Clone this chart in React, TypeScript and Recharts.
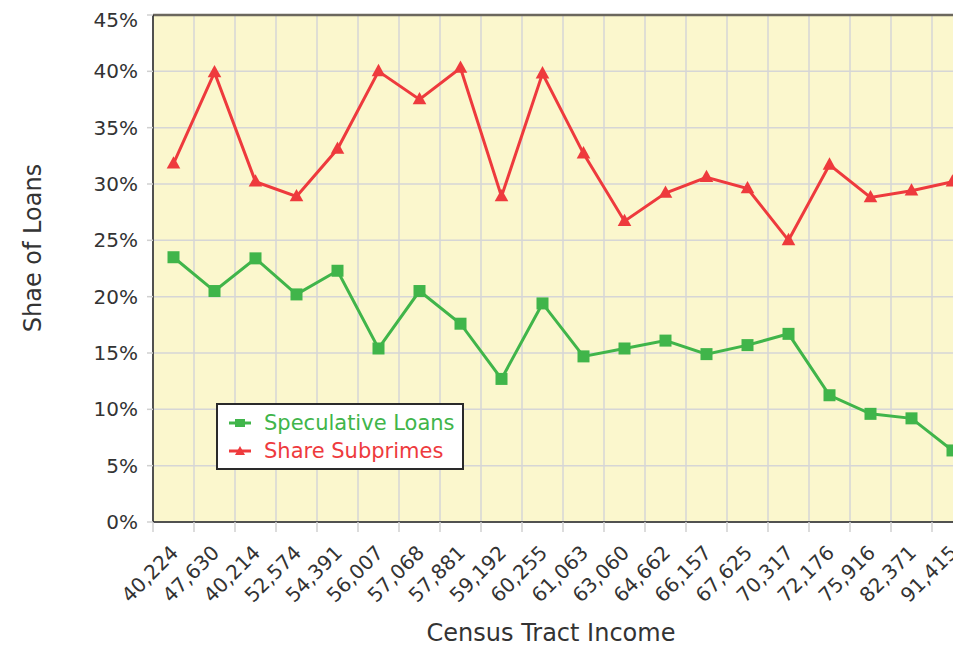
import React from 'react';
import { LineChart, Line, XAxis, YAxis, CartesianGrid, Legend, ReferenceLine, Label } from 'recharts';

const categories = [
  '40,224', '47,630', '40,214', '52,574', '54,391', '56,007', '57,068', '57,881', '59,192', '60,255',
  '61,063', '63,060', '64,662', '66,157', '67,625', '70,317', '72,176', '75,916', '82,371', '91,415',
];
const speculativeLoans = [23.5, 20.5, 23.4, 20.2, 22.3, 15.4, 20.5, 17.6, 12.7, 19.4, 14.7, 15.4, 16.1, 14.9, 15.7, 16.7, 11.25, 9.6, 9.2, 6.35];
const shareSubprimes = [31.8, 39.9, 30.2, 28.9, 33.1, 40.0, 37.5, 40.3, 28.9, 39.8, 32.7, 26.7, 29.2, 30.6, 29.6, 25.0, 31.7, 28.8, 29.4, 30.2];
const yTicks = [0, 5, 10, 15, 20, 25, 30, 35, 40, 45];

const GREEN = '#40b54a';
const RED = '#ee3a3d';
const FONT = '"DejaVu Sans", Verdana, sans-serif';

const CHART_W = 980;
const CHART_H = 642;
const MARGIN = { top: 7, right: 15, bottom: 0, left: 0 };
const Y_AXIS_W = 145;
const BAND = (CHART_W - MARGIN.left - MARGIN.right - Y_AXIS_W) / categories.length;

const data = categories.map((c, i) => ({
  idx: i + 0.5,
  income: c,
  spec: speculativeLoans[i],
  sub: shareSubprimes[i],
}));
const xTicks = categories.map((_, i) => i).concat(categories.length);

function XTick(props: any) {
  const { x, y, payload } = props;
  const label = categories[payload.value];
  if (!label) return null;
  return (
    <text
      transform={`translate(${x + BAND / 2 + 6},${y + 20}) rotate(-45)`}
      textAnchor="end"
      fontSize={20}
      fill="#333"
      fontFamily={FONT}
    >
      {label}
    </text>
  );
}

const squareDot = (p: any) => (
  <rect key={`s-${p.index}`} x={p.cx - 6} y={p.cy - 6} width={12} height={12} fill={GREEN} />
);
const triangleDot = (p: any) => (
  <polygon
    key={`t-${p.index}`}
    points={`${p.cx},${p.cy - 7.5} ${p.cx + 6.8},${p.cy + 4.8} ${p.cx - 6.8},${p.cy + 4.8}`}
    fill={RED}
  />
);

function LegendBox() {
  const row = (color: string, text: string, marker: React.ReactNode) => (
    <div style={{ display: 'flex', alignItems: 'center', height: 28 }}>
      <svg width={24} height={14} style={{ marginRight: 12 }}>
        <line x1={1} y1={7} x2={23} y2={7} stroke={color} strokeWidth={3} />
        {marker}
      </svg>
      <span style={{ color, fontSize: 21, fontFamily: FONT }}>{text}</span>
    </div>
  );
  return (
    <div
      style={{
        width: 248,
        height: 67,
        border: '2px solid #2a2a2a',
        background: '#fff',
        padding: '4px 0 0 10px',
        boxSizing: 'border-box',
      }}
    >
      {row(GREEN, 'Speculative Loans', <rect x={7} y={3} width={10} height={8} fill={GREEN} />)}
      {row(RED, 'Share Subprimes', <polygon points="12,2 17,11 7,11" fill={RED} />)}
    </div>
  );
}

export default function App() {
  return (
    <div style={{ width: 953, height: CHART_H, overflow: 'hidden', fontFamily: FONT }}>
      <style>{'html { overflow: hidden; } #root { overflow: visible !important; width: 953px; }'}</style>
      <LineChart width={CHART_W} height={CHART_H} data={data} margin={MARGIN}>
        <CartesianGrid stroke="#d6d6d6" strokeWidth={1.5} fill="#fbf7cd" />
        <XAxis
          dataKey="idx"
          type="number"
          domain={[0, categories.length]}
          ticks={xTicks}
          interval={0}
          height={128}
          tick={<XTick />}
          tickSize={10}
          tickLine={{ stroke: '#d0d0d0', strokeWidth: 1.5 }}
          axisLine={{ stroke: '#222', strokeWidth: 1.5 }}
        >
          <Label
            content={() => (
              <text x={543} y={633} textAnchor="middle" fontSize={24} fill="#333" fontFamily={FONT}>
                Census Tract Income
              </text>
            )}
          />
        </XAxis>
        <YAxis
          type="number"
          domain={[0, 45]}
          ticks={yTicks}
          width={Y_AXIS_W}
          tickFormatter={(v) => `${v}%`}
          tick={{ fill: '#333', fontSize: 20, fontFamily: FONT }}
          tickSize={6}
          tickMargin={9}
          tickLine={{ stroke: '#d0d0d0', strokeWidth: 1.5 }}
          axisLine={{ stroke: '#222', strokeWidth: 1.5 }}
        >
          <Label
            content={() => (
              <text
                transform="translate(25,240) rotate(-90)"
                textAnchor="middle"
                dominantBaseline="central"
                fontSize={24}
                fill="#333"
                fontFamily={FONT}
              >
                Shae of Loans
              </text>
            )}
          />
        </YAxis>
        <ReferenceLine y={45} stroke="#6b675e" strokeWidth={2.5} />
        <Legend
          layout="vertical"
          align="center"
          verticalAlign="middle"
          wrapperStyle={{ left: 208, top: 395, width: 'auto' }}
          content={() => <LegendBox />}
        />
        <Line
          dataKey="spec"
          name="Speculative Loans"
          stroke={GREEN}
          strokeWidth={3}
          dot={squareDot}
          activeDot={false}
          isAnimationActive={false}
        />
        <Line
          dataKey="sub"
          name="Share Subprimes"
          stroke={RED}
          strokeWidth={3}
          dot={triangleDot}
          activeDot={false}
          isAnimationActive={false}
        />
      </LineChart>
    </div>
  );
}
